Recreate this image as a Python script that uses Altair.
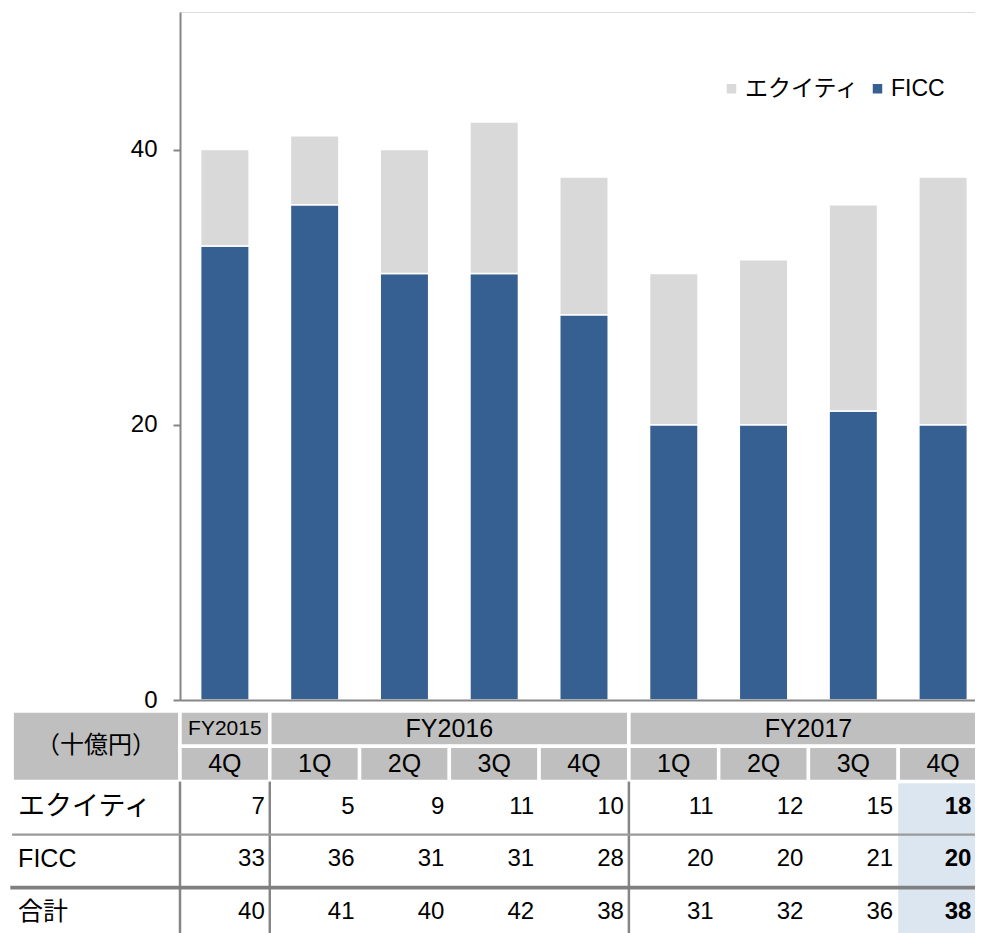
import altair as alt
import pandas as pd

# ---------------- data ----------------
periods = ["FY2015 4Q", "FY2016 1Q", "FY2016 2Q", "FY2016 3Q", "FY2016 4Q",
           "FY2017 1Q", "FY2017 2Q", "FY2017 3Q", "FY2017 4Q"]
quarter_labels = ["4Q", "1Q", "2Q", "3Q", "4Q", "1Q", "2Q", "3Q", "4Q"]
fiscal_years = ["FY2015", "FY2016", "FY2017"]
fy_quarter_counts = [1, 4, 4]
equity = [7, 5, 9, 11, 10, 11, 12, 15, 18]
ficc = [33, 36, 31, 31, 28, 20, 20, 21, 20]
total = [40, 41, 40, 42, 38, 31, 32, 36, 38]
series_names = ["エクイティ", "FICC"]
row_names = ["エクイティ", "FICC", "合計"]
unit_label = "（十億円）"
y_ticks = [0, 20, 40]

FONT = "Liberation Sans, Arial, Noto Sans CJK JP, sans-serif"
BLUE = "#366092"
LIGHT = "#d9d9d9"
HEAD = "#bfbfbf"
HILITE = "#dce6f1"
LINE = "#868686"

# ---------------- layout (table in column / row units) ----------------
N = len(periods)
LABEL_X0 = -1.87          # left edge of the row-label column (column units)
X_END = N + 0.06
W_PLOT = 795              # visible plot width (the last column runs off the edge)
X_RANGE = [0, 808]
LAST_TEXT_X = N - 0.14    # right anchor of the (cut-off) last column's values
TABLE_Y_DOMAIN = [0, 6.5]
TABLE_Y_RANGE = [699, 928.5]
row_bounds = [(2, 3.5), (3.5, 5), (5, 6.5)]
row_text_y = [2.72, 4.18, 5.7]

# ---------------- bars ----------------
bar_rows = []
for i, p in enumerate(periods):
    bar_rows.append({"period": p, "series": series_names[1], "value": ficc[i], "ord": 0})
    bar_rows.append({"period": p, "series": series_names[0], "value": equity[i], "ord": 1})
bar_df = pd.DataFrame(bar_rows)

bars = alt.Chart(bar_df).mark_bar(stroke="white", strokeWidth=1.5).encode(
    x=alt.X("period:N", sort=periods,
            scale=alt.Scale(range=X_RANGE, paddingInner=0.46, paddingOuter=0.23),
            axis=alt.Axis(title=None, labels=False, ticks=False, domainColor=LINE,
                          domainWidth=2, zindex=1)),
    y=alt.Y("value:Q", stack="zero", scale=alt.Scale(domain=[0, 50]),
            axis=alt.Axis(title=None, values=y_ticks, grid=False, domainColor=LINE,
                          domainWidth=2, tickColor=LINE, tickWidth=2, tickSize=7,
                          labelFontSize=24, labelColor="black", labelPadding=16,
                          labelFont=FONT, zindex=1)),
    color=alt.Color("series:N",
                    scale=alt.Scale(domain=series_names, range=[LIGHT, BLUE]),
                    legend=alt.Legend(title=None, orient="none", legendX=540, legendY=65,
                                      direction="horizontal", symbolType="square",
                                      symbolSize=90, symbolStrokeWidth=0,
                                      labelFontSize=23, labelFont=FONT, labelColor="black",
                                      labelOffset=2, columnPadding=6, padding=0)),
    order=alt.Order("ord:Q"),
)

# ---------------- table ----------------
def tx(f="x0"):
    return alt.X(f + ":Q", scale=alt.Scale(domain=[0, N], range=X_RANGE), axis=None)

def ty(f="y0"):
    return alt.Y(f + ":Q", scale=alt.Scale(domain=TABLE_Y_DOMAIN, range=TABLE_Y_RANGE), axis=None)

# header cells
head_rows = [{"x0": LABEL_X0, "x1": 0, "y0": 0, "y1": 2, "text": unit_label, "fs": 24}]
start = 0
for fy, c in zip(fiscal_years, fy_quarter_counts):
    head_rows.append({"x0": start, "x1": start + c, "y0": 0, "y1": 1, "text": fy,
                      "fs": 21 if c == 1 else 25})
    start += c
for i, q in enumerate(quarter_labels):
    head_rows.append({"x0": i, "x1": i + 1, "y0": 1, "y1": 2, "text": q, "fs": 25})
head_df = pd.DataFrame(head_rows)
head_df["xm"] = (head_df["x0"] + head_df["x1"]) / 2
head_df["ym"] = (head_df["y0"] + head_df["y1"]) / 2

head_rects = alt.Chart(head_df).mark_rect(fill=HEAD, stroke="white", strokeWidth=3.5).encode(
    x=tx("x0"), x2="x1:Q", y=ty("y0"), y2="y1:Q")
head_text = alt.Chart(head_df).mark_text(font=FONT, color="black", align="center",
                                          baseline="middle").encode(
    x=tx("xm"), y=ty("ym"), text="text:N", size=alt.Size("fs:Q", scale=None))

# highlight of latest quarter
hl_df = pd.DataFrame([{"x0": N - 1, "x1": N + 0.5, "y0": 2, "y1": 7}])
highlight = alt.Chart(hl_df).mark_rect(fill=HILITE).encode(
    x=tx("x0"), x2="x1:Q", y=ty("y0"), y2="y1:Q")

# grid lines
vbounds = [0]
acc = 0
for c in fy_quarter_counts[:-1]:
    acc += c
    vbounds.append(acc)
v_df = pd.DataFrame([{"x0": b, "y0": 2, "y1": 7} for b in vbounds])
v_lines = alt.Chart(v_df).mark_rule(color=LINE, strokeWidth=2.5).encode(
    x=tx("x0"), y=ty("y0"), y2="y1:Q")
h_thin = alt.Chart(pd.DataFrame([{"x0": LABEL_X0, "x1": X_END, "y0": row_bounds[1][0]}])).mark_rule(
    color="#9a9a9a", strokeWidth=2.2).encode(x=tx("x0"), x2="x1:Q", y=ty("y0"))
h_thick = alt.Chart(pd.DataFrame([{"x0": LABEL_X0 - 0.02, "x1": X_END, "y0": row_bounds[2][0]}])).mark_rule(
    color="#808080", strokeWidth=3.8).encode(x=tx("x0"), x2="x1:Q", y=ty("y0"))

# row labels
lab_df = pd.DataFrame([{"x0": LABEL_X0, "ym": row_text_y[k], "text": t,
                        "fs": 27 if k == 0 else 25} for k, t in enumerate(row_names)])
row_labels = alt.Chart(lab_df).mark_text(font=FONT, color="black", align="left",
                                          baseline="middle", dx=6).encode(
    x=tx("x0"), y=ty("ym"), text="text:N", size=alt.Size("fs:Q", scale=None))

# values
val_rows = []
for k, series in enumerate([equity, ficc, total]):
    for i, v in enumerate(series):
        last = i == N - 1
        val_rows.append({"x1": LAST_TEXT_X if last else i + 1, "ym": row_text_y[k],
                         "text": str(v), "bold": last})
val_df = pd.DataFrame(val_rows)
vals = alt.Chart(val_df).transform_filter("!datum.bold").mark_text(
    font=FONT, color="black", align="right", baseline="middle", dx=-5, fontSize=24).encode(
    x=tx("x1"), y=ty("ym"), text="text:N")
vals_bold = alt.Chart(val_df).transform_filter("datum.bold").mark_text(
    font=FONT, color="black", align="right", baseline="middle", dx=-4, fontSize=24,
    fontWeight="bold").encode(
    x=tx("x1"), y=ty("ym"), text="text:N")

chart = alt.layer(
    bars, highlight, head_rects, head_text, v_lines, h_thin, h_thick,
    row_labels, vals, vals_bold
).resolve_scale(x="independent", y="independent").properties(
    width=W_PLOT, height=688, autosize="none",
    padding={"left": 172, "top": 4, "right": 0, "bottom": 233},
).configure_view(stroke=None).configure(font=FONT, background="white")

chart.save("out.html", embed_options={"renderer": "svg", "actions": False})
